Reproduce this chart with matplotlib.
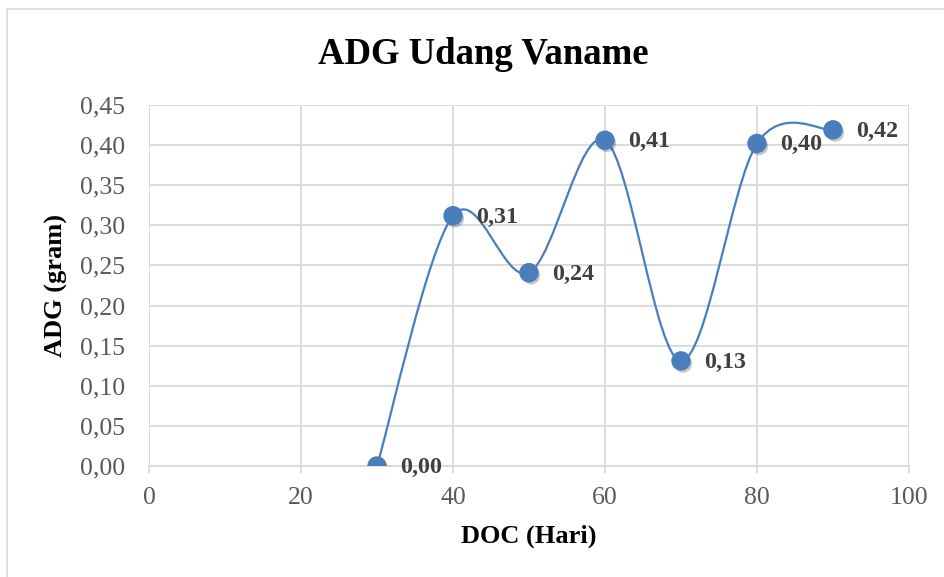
import matplotlib
matplotlib.use("Agg")
import matplotlib.pyplot as plt
import matplotlib.patheffects as pe
from matplotlib.path import Path
from matplotlib.patches import PathPatch, Rectangle

# data
doc_hari = [30, 40, 50, 60, 70, 80, 90]
adg_gram = [0.000, 0.312, 0.241, 0.406, 0.131, 0.402, 0.419]
x_ticks = [0, 20, 40, 60, 80, 100]
y_ticks = [0.00, 0.05, 0.10, 0.15, 0.20, 0.25, 0.30, 0.35, 0.40, 0.45]

biru = "#4a7ebb"
abu = "#d9d9d9"
teks = "#595959"

plt.rcParams["font.family"] = ["Liberation Serif", "DejaVu Serif"]

fig = plt.figure(figsize=(9.44, 5.77), dpi=100)
ax = fig.add_axes([149 / 944, 1 - 466 / 577, 760 / 944, 361 / 577])

# chart border (cut off at the right and bottom like the original)
fig.patches.append(Rectangle((7 / 944, -0.05), 1.1, 1 - 9 / 577 + 0.05,
                             transform=fig.transFigure, fill=False,
                             edgecolor=abu, linewidth=1.2))


def garis_halus(xs, ys):
    # Excel-like smoothed line: cubic Bezier with control points from neighbours
    n = len(xs)
    pts = list(zip(xs, ys))
    verts = [pts[0]]
    codes = [Path.MOVETO]
    for i in range(n - 1):
        p0 = pts[i - 1] if i > 0 else pts[i]
        p1 = pts[i]
        p2 = pts[i + 1]
        p3 = pts[i + 2] if i + 2 < n else pts[i + 1]
        c1 = (p1[0] + (p2[0] - p0[0]) / 6, p1[1] + (p2[1] - p0[1]) / 6)
        c2 = (p2[0] - (p3[0] - p1[0]) / 6, p2[1] - (p3[1] - p1[1]) / 6)
        verts += [c1, c2, p2]
        codes += [Path.CURVE4] * 3
    return Path(verts, codes)


ax.add_patch(PathPatch(garis_halus(doc_hari, adg_gram), fill=False,
                       edgecolor=biru, linewidth=1.6, zorder=3))
ax.plot(doc_hari, adg_gram, linestyle="none", marker="o", markersize=13,
        markerfacecolor=biru, markeredgecolor=biru, zorder=4,
        path_effects=[pe.SimplePatchShadow(offset=(1.5, -2), alpha=0.25),
                      pe.Normal()])

for x, y in zip(doc_hari, adg_gram):
    label = f"{y:.2f}".replace(".", ",")
    ax.annotate(label, (x, y), xytext=(17, -1), textcoords="offset points",
                ha="left", va="center", fontsize=17.3, fontweight="bold",
                color="#404040", zorder=5)

ax.set_xlim(0, 100)
ax.set_ylim(0, 0.45)
ax.set_xticks(x_ticks)
ax.set_yticks(y_ticks)
ax.set_yticklabels([f"{v:.2f}".replace(".", ",") for v in y_ticks])
ax.grid(True, color=abu, linewidth=1.3)
ax.set_axisbelow(True)
for s in ["top", "right", "left"]:
    ax.spines[s].set_visible(False)
ax.spines["bottom"].set_color(abu)
ax.spines["bottom"].set_linewidth(1.3)
ax.tick_params(axis="x", length=5, width=1.3, color=abu, labelsize=18.5,
               labelcolor=teks, pad=10)
ax.tick_params(axis="y", length=0, labelsize=18.5, labelcolor=teks, pad=17)

ax.set_xlabel("DOC (Hari)", fontsize=19, fontweight="bold", labelpad=11)
ax.set_ylabel("ADG (gram)", fontsize=19, fontweight="bold", labelpad=9)
fig.text(483 / 944, 1 - 55 / 577, "ADG Udang Vaname", ha="center", va="center",
         fontsize=26.5, fontweight="bold")

fig.savefig("out.png", dpi=100)
